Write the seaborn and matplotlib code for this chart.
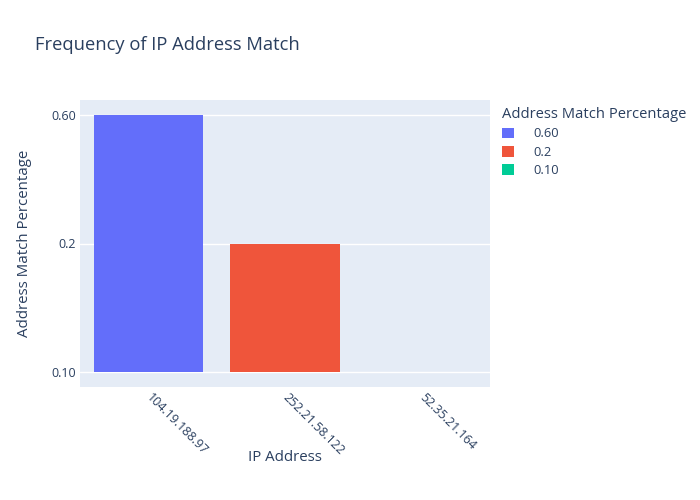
import matplotlib
matplotlib.use("Agg")
import matplotlib.pyplot as plt
import seaborn as sns
import pandas as pd

ip_addresses = ["104.19.188.97", "252.21.58.122", "52.35.21.164"]
match_pct = ["0.60", "0.2", "0.10"]
y_categories = ["0.10", "0.2", "0.60"]  # bottom to top
legend_order = ["0.60", "0.2", "0.10"]
colors = ["#636efa", "#EF553B", "#00cc96"]

df = pd.DataFrame({
    "IP Address": ip_addresses,
    "Address Match Percentage": match_pct,
})
df["ypos"] = [y_categories.index(v) for v in df["Address Match Percentage"]]

sns.set_theme(style="darkgrid")
plt.rcParams["font.family"] = ["Open Sans", "DejaVu Sans"]
text_color = "#2a3f5f"

fig = plt.figure(figsize=(7, 5), dpi=100)
ax = fig.add_axes([80/700, 1-387/500, 410/700, 287/500])
ax.set_facecolor("#E5ECF6")

sns.barplot(data=df, x="IP Address", y="ypos", hue="Address Match Percentage",
            hue_order=legend_order, palette=colors, dodge=False, width=0.8,
            saturation=1, linewidth=0, ax=ax, legend=True)

ax.set_xlim(-0.5, 2.5)
ax.set_ylim(-0.117, 2.117)
ax.set_yticks(range(len(y_categories)))
ax.set_yticklabels(y_categories)
ax.grid(True, axis="y", color="white", linewidth=1)
ax.grid(False, axis="x")
ax.set_axisbelow(True)
for s in ax.spines.values():
    s.set_visible(False)

ax.tick_params(axis="both", length=0, colors=text_color, labelsize=9)
ax.tick_params(axis="y", pad=3)
ax.tick_params(axis="x", pad=6)
for lab in ax.get_xticklabels():
    lab.set_rotation(-45)
    lab.set_ha("left")
    lab.set_va("center")
    lab.set_rotation_mode("anchor")

ax.set_xlabel("IP Address", fontsize=10.8, color=text_color, labelpad=-5)
ax.set_ylabel("Address Match Percentage", fontsize=10.8, color=text_color, labelpad=14)

leg = ax.get_legend()
handles = leg.legend_handles
labels = [t.get_text() for t in leg.get_texts()]
leg.remove()
fig.legend(handles, labels, title="Address Match Percentage",
           loc="upper left", bbox_to_anchor=(493/700, 1-98/500),
           frameon=False, fontsize=9.3, title_fontsize=10.6,
           handlelength=0.9, handleheight=0.9, handletextpad=1.5,
           labelspacing=0.42, alignment="left", labelcolor=text_color,
           borderpad=0.2)
fig.legends[0].get_title().set_color(text_color)

fig.text(35/700, 1-45/500, "Frequency of IP Address Match", fontsize=13.2,
         color=text_color, va="center", ha="left")

fig.savefig("out.png", dpi=100)
